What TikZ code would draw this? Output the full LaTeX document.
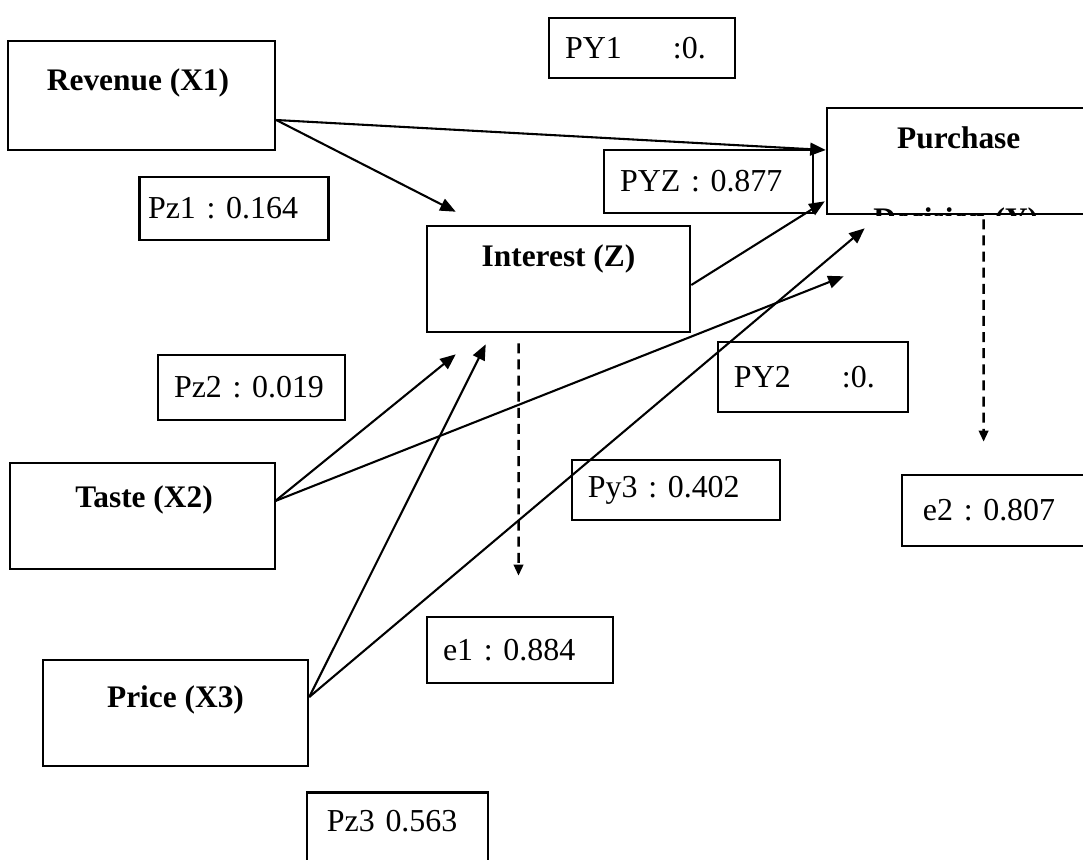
\documentclass[tikz,border=0pt]{standalone}
\usepackage{fontspec}
\setmainfont{Liberation Serif}
\usetikzlibrary{arrows.meta}

\tikzset{
  varbox/.style={draw,line width=0.9pt,minimum height=38.2pt},
  valbox/.style={draw,line width=0.9pt,align=left,inner xsep=5.8pt,font=\fontsize{11.5}{13.8}\selectfont\frenchspacing},
  vartitle/.style={font=\fontsize{11.3}{13.6}\selectfont\bfseries,inner sep=0pt},
  arr/.style={->,line width=0.75pt},
  errarr/.style={->,line width=0.9pt,dash pattern=on 3.6pt off 2.2pt,>={Triangle[length=4pt,width=3.4pt]}}
}

\begin{document}
\begin{tikzpicture}[x=0.36pt,y=-0.36pt,>={Triangle[length=5.6pt,width=4.6pt]}]
\clip[use as bounding box] (0,0) rectangle (1083,859);

\node[varbox,minimum width=96.1pt,minimum height=39.2pt](rev) at (141.5,95.5){};
\node[varbox,minimum width=94.7pt](int) at (558.5,279){};
\node[varbox,minimum width=95.4pt](taste) at (142.5,516){};
\node[varbox,minimum width=95.4pt](price) at (175.5,713){};
\node[varbox,minimum width=105.5pt](pur) at (973.5,161){};

\node[vartitle](revt) at ([shift={(-3.5,43)}]rev.north){Revenue (X1)};
\node[vartitle](intt) at ([shift={(0,34)}]int.north){Interest (Z)};
\node[vartitle](tastet) at ([shift={(1.5,38)}]taste.north){Taste (X2)};
\node[vartitle](pricet) at ([shift={(0,41)}]price.north){Price (X3)};
\node[vartitle](purt) at ([shift={(133,31)}]pur.north west){Purchase};
\begin{scope}
\clip (pur.south west) rectangle (pur.north east);
\node[vartitle](purt2) at ([shift={(130,115)}]pur.north west){Decision (Y)};
\end{scope}

\node[valbox,text width=55.4pt,minimum height=21.6pt](py1) at (642,48){PY1\hspace{1.6em}:0.};
\node[valbox,text width=63.7pt,minimum height=22.7pt](pyz) at (708.5,181.5){PYZ : 0.877};
\node[valbox,text width=61.9pt,inner xsep=3pt,minimum height=22.7pt](pz1) at (234,208.5){Pz1 : 0.164};
\node[valbox,text width=55.8pt,minimum height=23.4pt](pz2) at (251.5,387.5){Pz2 : 0.019};
\node[valbox,text width=56.9pt,minimum height=25.2pt](py2) at (813,377){PY2\hspace{1.6em}:0.};
\node[valbox,text width=63.4pt,minimum height=21.6pt](py3) at (676,490){Py3 : 0.402};
\node[valbox,text width=55.4pt,minimum height=23.8pt](e1) at (520,650){e1 : 0.884};
\node[valbox,text width=63.4pt,inner xsep=7.6pt,minimum height=25.6pt](e2) at (1011,510.5){e2 : 0.807};
\node[valbox,anchor=north,text width=50.8pt,inner xsep=7.2pt,inner ysep=6.5pt,text depth=25pt](pz3) at (397.5,791){Pz3 0.563};

\coordinate (revout) at ([shift={(0,24.5)}]rev.east);
\coordinate (intout) at ([shift={(0,6)}]int.east);
\coordinate (tasteout) at ([shift={(-1,-15)}]taste.east);
\coordinate (priceout) at ([shift={(0,-16)}]price.east);
\coordinate (purin1) at ([shift={(0,-11)}]pur.west);
\coordinate (purin2) at ([shift={(-1,-14)}]pur.south west);
\coordinate (purin3) at ([shift={(18,61)}]pur.south west);
\coordinate (purin4) at ([shift={(39,13)}]pur.south west);
\coordinate (intin1) at ([shift={(30,-13)}]int.north west);
\coordinate (intin2) at ([shift={(30,21)}]int.south west);
\coordinate (intin3) at ([shift={(60,11)}]int.south west);
\coordinate (e1from) at ([shift={(-40,10)}]int.south);
\coordinate (e1to) at ([shift={(-1.5,-40)}]e1.north);
\coordinate (e2from) at ([shift={(158,4)}]pur.south west);
\coordinate (e2to) at ([shift={(83,-32)}]e2.north west);

\path[arr](revout) edge (purin1) edge (intin1)
	(intout) edge (purin2)
	(tasteout) edge (intin2) edge (purin3)
	(priceout) edge (intin3) edge (purin4);
\path[errarr](e1from) edge (e1to)
	(e2from) edge (e2to);

\end{tikzpicture}
\end{document}
